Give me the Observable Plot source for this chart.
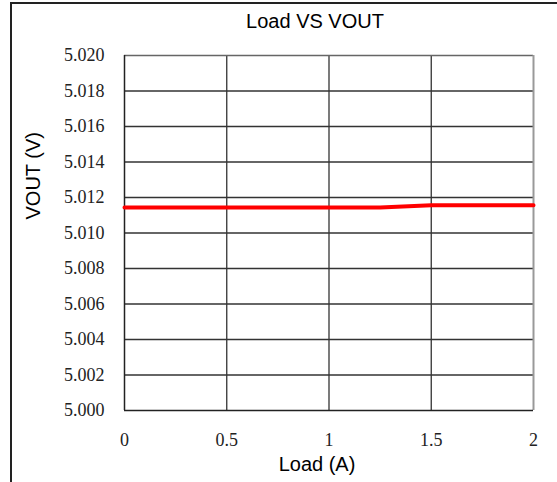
<!DOCTYPE html>
<html>
<head>
<meta charset="utf-8">
<script src="https://cdn.jsdelivr.net/npm/d3@7"></script>
<script src="https://cdn.jsdelivr.net/npm/@observablehq/plot@0.6"></script>
<style>
  html, body { margin: 0; padding: 0; background: #fff; }
  #chart svg { display: block; }
</style>
</head>
<body>
<div id="chart"></div>
<script>
const loadA = [0, 0.25, 0.5, 0.75, 1, 1.25, 1.5, 1.75, 2];
const vout = [5.01143, 5.01143, 5.01143, 5.01143, 5.01143, 5.01143, 5.01157, 5.01157, 5.01157];
const xTicks = [0, 0.5, 1, 1.5, 2];
const yTicks = [5.000, 5.002, 5.004, 5.006, 5.008, 5.010, 5.012, 5.014, 5.016, 5.018, 5.020];
const titleText = "Load VS VOUT";
const xLabel = "Load (A)";
const yLabel = "VOUT (V)";

const data = loadA.map((x, i) => ({x, y: vout[i]}));
const sans = "Liberation Sans, Arial, sans-serif";
const serif = "Liberation Serif, Times New Roman, serif";

const chart = Plot.plot({
  width: 557,
  height: 482,
  marginLeft: 124,
  marginRight: 24,
  marginTop: 55,
  marginBottom: 72,
  style: {fontFamily: serif, background: "#fff"},
  x: {domain: [0, 2]},
  y: {domain: [5.000, 5.020]},
  marks: [
    Plot.ruleX(xTicks.filter(d => d > 0 && d < 2), {stroke: "#333", strokeWidth: 1.3, strokeOpacity: 1}),
    Plot.ruleY(yTicks.filter(d => d > 5.000 && d < 5.020), {stroke: "#333", strokeWidth: 1.3, strokeOpacity: 1}),
    Plot.ruleY([5.020], {stroke: "#666", strokeWidth: 1.5, strokeOpacity: 1}),
    Plot.ruleX([2], {stroke: "#999", strokeWidth: 2, strokeOpacity: 1}),
    Plot.ruleX([0], {stroke: "#222", strokeWidth: 1.5, strokeOpacity: 1}),
    Plot.ruleY([5.000], {stroke: "#222", strokeWidth: 1.5, strokeOpacity: 1}),
    Plot.axisX(xTicks, {tickSize: 0, tickPadding: 23, fontSize: 18, fontFamily: serif, fill: "#222", tickFormat: d => String(d), label: null}),
    Plot.axisY(yTicks, {tickSize: 0, tickPadding: 20, fontSize: 18, fontFamily: serif, fill: "#222", tickFormat: d3.format(".3f"), label: null}),
    Plot.line(data, {x: "x", y: "y", stroke: "#ff0000", strokeWidth: 4}),
    Plot.text([titleText], {frameAnchor: "top", dx: -14, dy: -34.4, fontSize: 20, fontFamily: sans, fill: "#000", lineAnchor: "middle"}),
    Plot.text([xLabel], {frameAnchor: "bottom", dx: -12, dy: 53.6, fontSize: 20, fontFamily: sans, fill: "#000", lineAnchor: "middle"}),
    Plot.text([yLabel], {frameAnchor: "left", dx: -91, dy: -13.5, rotate: -90, fontSize: 20, fontFamily: sans, fill: "#000", lineAnchor: "middle"})
  ]
});

d3.select(chart).append("rect")
  .attr("x", 11).attr("y", 3)
  .attr("width", 700).attr("height", 700)
  .attr("fill", "none").attr("stroke", "#222").attr("stroke-width", 2);

document.getElementById("chart").appendChild(chart);
</script>
</body>
</html>
